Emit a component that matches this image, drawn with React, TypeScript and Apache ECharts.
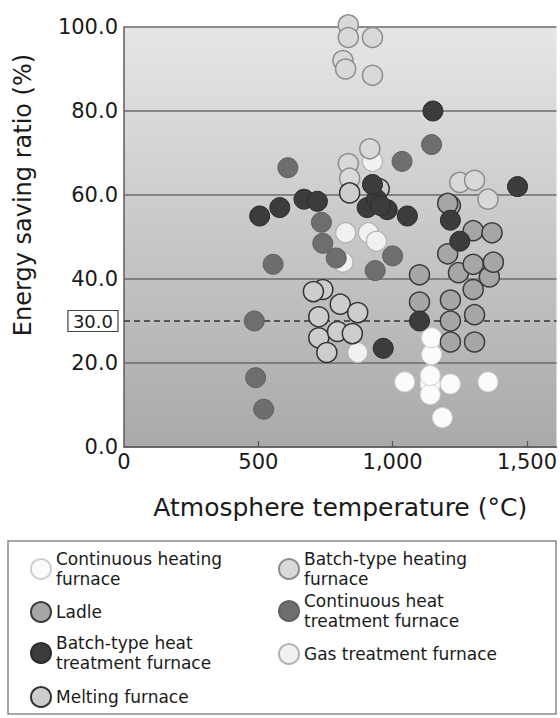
import React, { useEffect, useRef } from "react";
import * as echarts from "echarts";

const FONT = "DejaVu Sans";
const INK = "#1a1a1a";

// Axis ticks
const xTickValues = [0, 500, 1000, 1500];
const xInnerTicks = [500, 1000, 1500];
const targetRatio = 30;

// Each point: [atmosphere temperature (°C), energy saving ratio (%)]
const continuousHeating = [
  [1045, 15.5], [1140, 15], [1215, 15], [1140, 12.5], [1185, 7],
  [1355, 15.5], [1145, 22], [1145, 26], [1140, 17],
];
const gasTreatment = [
  [925, 68], [825, 51], [910, 51], [940, 49], [815, 44], [870, 22.5],
];
const batchHeating = [
  [835, 100.5], [835, 97.5], [925, 97.5], [815, 92], [825, 90], [925, 88.5],
  [915, 71], [835, 67.5], [840, 64], [1250, 63], [1305, 63.5], [1355, 59],
];
const melting = [
  [740, 37.5], [705, 37], [805, 34], [870, 32], [725, 31], [725, 26],
  [795, 27.5], [850, 27], [755, 22.5], [950, 61.5], [840, 60.5],
];
const ladle = [
  [1100, 41], [1100, 34.5], [1215, 35], [1215, 30], [1215, 25], [1300, 37.5],
  [1305, 31.5], [1305, 25], [1245, 41.5], [1300, 43.5], [1360, 40.5], [1375, 44],
  [1205, 46], [1215, 57.5], [1300, 51.5], [1370, 51], [1205, 58],
];
const continuousHeatTreatment = [
  [485, 30], [490, 16.5], [520, 9], [555, 43.5], [610, 66.5], [735, 53.5],
  [740, 48.5], [790, 45], [1035, 68], [1145, 72], [1000, 45.5], [935, 42],
];
const batchHeatTreatment = [
  [1150, 80], [505, 55], [580, 57], [670, 59], [720, 58.5], [905, 57],
  [940, 59], [980, 56.5], [1055, 55], [955, 57.5], [925, 62.5], [1465, 62],
  [1215, 54], [1250, 49], [1100, 30], [965, 23.5],
];

const N_CHF = "Continuous heating furnace";
const N_BHF = "Batch-type heating furnace";
const N_LADLE = "Ladle";
const N_CHTF = "Continuous heat treatment furnace";
const N_BHTF = "Batch-type heat treatment furnace";
const N_GAS = "Gas treatment furnace";
const N_MELT = "Melting furnace";

const wrapped: Record<string, string> = {
  [N_CHF]: "Continuous heating\nfurnace",
  [N_BHF]: "Batch-type heating\nfurnace",
  [N_LADLE]: "Ladle",
  [N_CHTF]: "Continuous heat\ntreatment furnace",
  [N_BHTF]: "Batch-type heat\ntreatment furnace",
  [N_GAS]: "Gas treatment furnace",
  [N_MELT]: "Melting furnace",
};

type SeriesDef = { name: string; data: number[][]; fill: string; stroke: string; width: number };

// drawing order: lighter groups first, darkest last
const seriesDefs: SeriesDef[] = [
  { name: N_CHF, data: continuousHeating, fill: "#fbfbfb", stroke: "#cfcfcf", width: 1 },
  { name: N_GAS, data: gasTreatment, fill: "#f1f1f1", stroke: "#b3b3b3", width: 1.2 },
  { name: N_BHF, data: batchHeating, fill: "#d9d9d9", stroke: "#8c8c8c", width: 1.5 },
  { name: N_MELT, data: melting, fill: "#cdcdcd", stroke: "#333333", width: 1.5 },
  { name: N_LADLE, data: ladle, fill: "#a6a6a6", stroke: "#3a3a3a", width: 1.5 },
  { name: N_CHTF, data: continuousHeatTreatment, fill: "#6e6e6e", stroke: "#606060", width: 1 },
  { name: N_BHTF, data: batchHeatTreatment, fill: "#3c3c3c", stroke: "#2a2a2a", width: 1 },
];

// legend entries: name, left, top
const legendSlots: [string, number, number][] = [
  [N_CHF, 30, 549],
  [N_LADLE, 30, 601],
  [N_BHTF, 30, 633],
  [N_MELT, 30, 686],
  [N_BHF, 278, 549],
  [N_CHTF, 278, 591],
  [N_GAS, 278, 643],
];

export default function App() {
  const ref = useRef<HTMLDivElement>(null);

  useEffect(() => {
    if (!ref.current) return;
    const chart = echarts.init(ref.current, undefined, { renderer: "svg" });

    const series: any[] = seriesDefs.map((s, i) => ({
      type: "scatter",
      name: s.name,
      data: s.data,
      symbol: "circle",
      symbolSize: 20,
      clip: false,
      itemStyle: { color: s.fill, borderColor: s.stroke, borderWidth: s.width, opacity: 1 },
      ...(i === 0
        ? {
            markLine: {
              silent: true,
              symbol: "none",
              z: 1,
              lineStyle: { type: [6, 4], color: "#333", width: 1.5 },
              label: {
                position: "start",
                distance: 6,
                formatter: targetRatio.toFixed(1),
                fontFamily: FONT,
                fontSize: 18,
                color: INK,
                borderColor: "#444",
                borderWidth: 1.2,
                padding: [2, 5, 1, 5],
              },
              data: [{ yAxis: targetRatio }],
            },
          }
        : {}),
    }));

    chart.setOption({
      animation: false,
      backgroundColor: "#ffffff",
      textStyle: { fontFamily: FONT },
      grid: {
        left: 124,
        right: 2,
        top: 27,
        bottom: 271,
        show: true,
        borderWidth: 0,
        backgroundColor: new echarts.graphic.LinearGradient(0, 0, 0, 1, [
          { offset: 0, color: "#e6e6e6" },
          { offset: 1, color: "#a9a9a9" },
        ]),
      },
      xAxis: {
        type: "value",
        min: 0,
        max: 1610,
        interval: 500,
        name: "Atmosphere temperature (°C)",
        nameLocation: "middle",
        nameGap: 48,
        nameTextStyle: { fontFamily: FONT, fontSize: 25, color: INK },
        axisLine: { show: true, lineStyle: { color: "#5c5c5c", width: 1.5 } },
        axisTick: {
          show: true,
          inside: true,
          length: 6,
          customValues: xInnerTicks,
          lineStyle: { color: "#555", width: 1.2 },
        },
        axisLabel: {
          customValues: xTickValues,
          margin: 4,
          fontFamily: FONT,
          fontSize: 21,
          color: INK,
          formatter: (v: number) => v.toLocaleString("en-US"),
        },
        splitLine: { show: false },
      },
      yAxis: {
        type: "value",
        min: 0,
        max: 100,
        interval: 20,
        name: "Energy saving ratio (%)",
        nameLocation: "middle",
        nameGap: 89,
        nameTextStyle: { fontFamily: FONT, fontSize: 24, color: INK, padding: [0, 0, 0, 84] },
        axisLine: { show: true, lineStyle: { color: "#5c5c5c", width: 1.5 } },
        axisTick: { show: false },
        axisLabel: {
          margin: 6,
          fontFamily: FONT,
          fontSize: 21,
          color: INK,
          formatter: (v: number) => v.toFixed(1),
        },
        splitLine: { show: true, lineStyle: { color: "#6b6b6b", width: 1.5 } },
      },
      legend: legendSlots.map(([name, left, top]) => ({
        data: [name],
        left,
        top,
        orient: "vertical",
        padding: 0,
        itemGap: 0,
        itemWidth: 20,
        itemHeight: 20,
        icon: "circle",
        selectedMode: false,
        formatter: (n: string) => wrapped[n] ?? n,
        textStyle: { fontFamily: FONT, fontSize: 17, lineHeight: 20, color: INK },
      })),
      graphic: [
        {
          type: "rect",
          z: 0,
          silent: true,
          shape: { x: 8, y: 541, width: 548, height: 173 },
          style: { fill: "#ffffff", stroke: "#8a8a8a", lineWidth: 1.5 },
        },
      ],
      series,
    });

    return () => chart.dispose();
  }, []);

  return (
    <div
      ref={ref}
      style={{ position: "fixed", left: 0, top: 0, width: 560, height: 718 }}
    />
  );
}
